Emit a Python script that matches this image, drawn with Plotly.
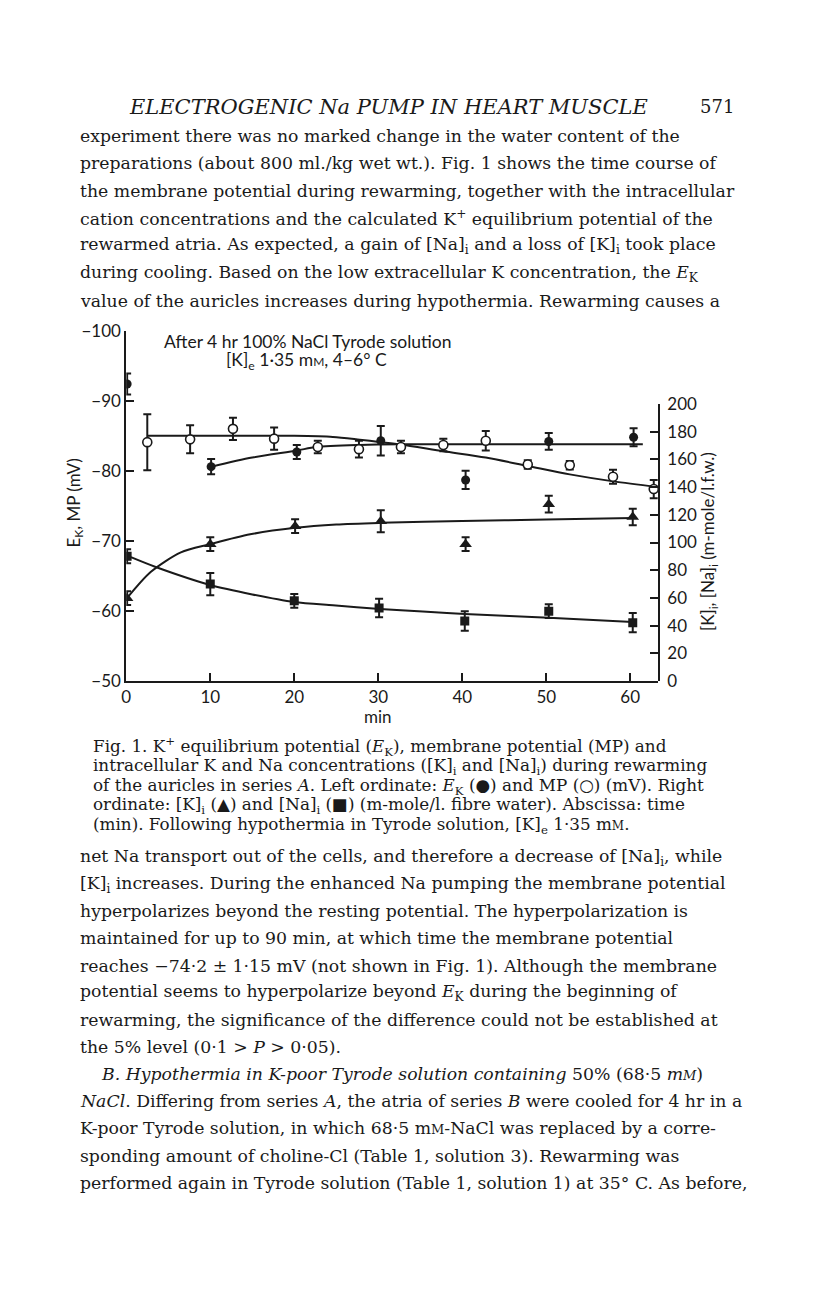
import plotly.graph_objects as go

# the page keeps the browser's 8px body margin, so the figure is 16px smaller
# than the 816x1296 window and every position below is given in window pixels
PAGE_W, PAGE_H = 816, 1296
MARGIN = 8
W, H = PAGE_W - 2 * MARGIN, PAGE_H - 2 * MARGIN

# E_K (filled circles), left ordinate, mV
t_ek = [0.1, 10.1, 20.3, 30.3, 40.4, 50.3, 60.4]
ek = [-92.4, -80.6, -82.7, -84.3, -78.7, -84.2, -84.8]
ek_err = [1.5, 1.1, 1.0, 2.1, 1.3, 1.2, 1.3]

# MP (open circles), left ordinate, mV
t_mp = [2.5, 7.6, 12.7, 17.6, 22.8, 27.7, 32.7, 37.75, 42.8, 47.8, 52.8, 57.95, 62.8]
mp = [-84.1, -84.5, -86.0, -84.6, -83.4, -83.1, -83.4, -83.7, -84.3, -80.9, -80.8, -79.15, -77.4]
mp_err = [4.0, 2.0, 1.6, 1.6, 0.9, 1.2, 0.9, 0.9, 1.4, 0.6, 0.6, 1.0, 1.3]

# [K]i (triangles), right ordinate
t_k = [0.1, 10.0, 20.1, 30.3, 40.4, 50.3, 60.3]
k = [59.8, 98.8, 111.8, 115.4, 98.8, 127.7, 118.4]
k_err = [5, 5, 5, 8, 5, 6, 6]

# [Na]i (squares), right ordinate
t_na = [0.1, 10.0, 20.0, 30.1, 40.3, 50.3, 60.3]
na = [90.1, 70.0, 57.9, 52.7, 43.3, 50.4, 42.1]
na_err = [5, 8, 5, 6.6, 7, 5, 7]

# hand-drawn curves
mp_fit_t = [2.5, 10, 20, 24.6, 27.8, 30.3, 32.7, 37.75, 42.8, 47.8, 52.8, 58, 63.3]
mp_fit = [-85.0, -85.0, -85.0, -84.85, -84.45, -84.1, -83.75, -82.8, -81.9, -80.7, -79.5, -78.5, -77.7]
ek_fit_t = [10.1, 15, 20.3, 22.6, 27.8, 32.6, 40, 50, 61.5]
ek_fit = [-80.6, -81.9, -82.9, -83.4, -83.7, -83.8, -83.8, -83.8, -83.8]
k_fit_t = [0.15, 2.9, 6.5, 10, 14.75, 20.1, 25, 30.3, 40, 50, 60.3]
k_fit = [60.3, 78.7, 92.9, 98.8, 105.9, 110.6, 113.0, 114.2, 115.5, 116.6, 117.7]
na_fit_t = [0.55, 3.5, 10, 15, 20, 24.6, 30.2, 35.3, 40.3, 50.3, 60.3]
na_fit = [89.4, 82.3, 69.3, 62.5, 57.0, 54.6, 52.0, 50.1, 48.4, 45.6, 42.6]

x_ticks = [0, 10, 20, 30, 40, 50, 60]
left_ticks = [-100, -90, -80, -70, -60, -50]
left_labels = ["\u2212100", "\u221290", "\u221280", "\u221270", "\u221260", "\u221250"]
right_ticks = [0, 20, 40, 60, 80, 100, 120, 140, 160, 180, 200]

header = "<i>ELECTROGENIC Na PUMP IN HEART MUSCLE</i>"
page_no = "571"

para_top = [
    "experiment there was no marked change in the water content of the",
    "preparations (about 800 ml./kg wet wt.). Fig. 1 shows the time course of",
    "the membrane potential during rewarming, together with the intracellular",
    "cation concentrations and the calculated K<sup>+</sup> equilibrium potential of the",
    "rewarmed atria. As expected, a gain of [Na]<sub>i</sub> and a loss of [K]<sub>i</sub> took place",
    "during cooling. Based on the low extracellular K concentration, the <i>E</i><sub>K</sub>",
    "value of the auricles increases during hypothermia. Rewarming causes a",
]

caption = [
    "Fig. 1. K<sup>+</sup> equilibrium potential (<i>E</i><sub>K</sub>), membrane potential (MP) and",
    "intracellular K and Na concentrations ([K]<sub>i</sub> and [Na]<sub>i</sub>) during rewarming",
    "of the auricles in series <i>A</i>. Left ordinate: <i>E</i><sub>K</sub> (\u25cf) and MP (\u25cb) (mV). Right",
    "ordinate: [K]<sub>i</sub> (\u25b2) and [Na]<sub>i</sub> (\u25a0) (m-mole/l. fibre water). Abscissa: time",
    "(min). Following hypothermia in Tyrode solution, [K]<sub>e</sub> 1\u00b735 m<span style='font-size:12px'>M</span>.",
]

para_bottom = [
    "net Na transport out of the cells, and therefore a decrease of [Na]<sub>i</sub>, while",
    "[K]<sub>i</sub> increases. During the enhanced Na pumping the membrane potential",
    "hyperpolarizes beyond the resting potential. The hyperpolarization is",
    "maintained for up to 90 min, at which time the membrane potential",
    "reaches \u221274\u00b72 \u00b1 1\u00b715 mV (not shown in Fig. 1). Although the membrane",
    "potential seems to hyperpolarize beyond <i>E</i><sub>K</sub> during the beginning of",
    "rewarming, the significance of the difference could not be established at",
    "the 5% level (0\u00b71 > <i>P</i> > 0\u00b705).",
    "<i>B. Hypothermia in K-poor Tyrode solution containing</i> 50% (68\u00b75 <i>m<span style='font-size:13px'>M</span></i>)",
    "<i>NaCl</i>. Differing from series <i>A</i>, the atria of series <i>B</i> were cooled for 4 hr in a",
    "K-poor Tyrode solution, in which 68\u00b75 m<span style='font-size:13px'>M</span>-NaCl was replaced by a corre-",
    "sponding amount of choline-Cl (Table 1, solution 3). Rewarming was",
    "performed again in Tyrode solution (Table 1, solution 1) at 35\u00b0 C. As before,",
]


def px(x, y):
    """window pixels -> paper coordinates"""
    return (x - MARGIN) / W, 1 - (y - MARGIN) / H


SERIF = "DejaVu Serif"
SANS = "Lato"
INK = "#1a1a1a"

fig = go.Figure()

curve = dict(color=INK, width=2, shape="spline", smoothing=0.8)
fig.add_trace(go.Scatter(x=mp_fit_t, y=mp_fit, mode="lines", line=curve, yaxis="y"))
fig.add_trace(go.Scatter(x=ek_fit_t, y=ek_fit, mode="lines", line=curve, yaxis="y"))
fig.add_trace(go.Scatter(x=k_fit_t, y=k_fit, mode="lines", line=curve, yaxis="y2"))
fig.add_trace(go.Scatter(x=na_fit_t, y=na_fit, mode="lines", line=curve, yaxis="y2"))


def err(a):
    return dict(type="data", array=a, visible=True, color=INK, thickness=2, width=4)


fig.add_trace(go.Scatter(
    x=t_mp, y=mp, mode="markers", yaxis="y", error_y=err(mp_err),
    marker=dict(symbol="circle", size=9, color="white", line=dict(color=INK, width=1.6)),
))
fig.add_trace(go.Scatter(
    x=t_ek, y=ek, mode="markers", yaxis="y", error_y=err(ek_err),
    marker=dict(symbol="circle", size=9, color=INK),
))
fig.add_trace(go.Scatter(
    x=t_k, y=k, mode="markers", yaxis="y2", error_y=err(k_err),
    marker=dict(symbol="triangle-up", size=11, color=INK),
))
fig.add_trace(go.Scatter(
    x=t_na, y=na, mode="markers", yaxis="y2", error_y=err(na_err),
    marker=dict(symbol="square", size=9, color=INK),
))

axis_common = dict(
    showline=True, linecolor=INK, linewidth=2, ticks="inside", ticklen=8,
    tickwidth=2, tickcolor=INK, showgrid=False, zeroline=False,
    tickfont=dict(family=SANS, size=17, color=INK),
)

x0, y_bot = px(122, 681)
x1, y_top = px(657, 325)
_, y2_top = px(657, 399.5)

ann = []
# page text
xx, yy = px(386, 97)
ann.append(dict(x=xx, y=yy, text=header, xanchor="center",
                font=dict(family=SERIF, size=21, color=INK)))
xx, yy = px(736, 97)
ann.append(dict(x=xx, y=yy, text=page_no, xanchor="right",
                font=dict(family=SERIF, size=18, color=INK)))
for i, line in enumerate(para_top):
    xx, yy = px(73, 127 + i * 27.9)
    ann.append(dict(x=xx, y=yy, text=line, xanchor="left",
                    font=dict(family=SERIF, size=17.3, color=INK)))
for i, line in enumerate(caption):
    xx, yy = px(86, 748 + i * 20)
    ann.append(dict(x=xx, y=yy, text=line, xanchor="left",
                    font=dict(family=SERIF, size=16.8, color=INK)))
for i, line in enumerate(para_bottom):
    left = 95 if i == 8 else 73
    xx, yy = px(left, 860 + i * 27.6)
    ann.append(dict(x=xx, y=yy, text=line, xanchor="left",
                    font=dict(family=SERIF, size=17.3, color=INK)))

# chart text
xx, yy = px(158, 336)
ann.append(dict(x=xx, y=yy, text="After 4 hr 100% NaCl Tyrode solution", xanchor="left",
                font=dict(family=SANS, size=17.5, color=INK)))
xx, yy = px(220, 356)
ann.append(dict(x=xx, y=yy, text="[K]<sub>e</sub> 1\u00b735 m<span style='font-size:12px'>M</span>, 4\u20136\u00b0 C",
                xanchor="left", font=dict(family=SANS, size=17.5, color=INK)))
xx, yy = px(375, 717)
ann.append(dict(x=xx, y=yy, text="min", xanchor="center",
                font=dict(family=SANS, size=17, color=INK)))
xx, yy = px(70, 500)
ann.append(dict(x=xx, y=yy, text="E<sub>K</sub>, MP (mV)", textangle=-90, xanchor="center",
                font=dict(family=SANS, size=17, color=INK)))
xx, yy = px(709, 539)
ann.append(dict(x=xx, y=yy, text="[K]<sub>i</sub>, [Na]<sub>i</sub> (m-mole/l.f.w.)", textangle=-90,
                xanchor="center", font=dict(family=SANS, size=17, color=INK)))

for a in ann:
    a.update(xref="paper", yref="paper", showarrow=False, yanchor="middle")

fig.update_layout(
    width=W, height=H, autosize=False,
    margin=dict(l=0, r=0, t=0, b=0),
    paper_bgcolor="white", plot_bgcolor="rgba(0,0,0,0)",
    showlegend=False,
    modebar=dict(bgcolor="rgba(0,0,0,0)", color="rgba(0,0,0,0)", activecolor="rgba(0,0,0,0)"),
    xaxis=dict(domain=[x0, x1], range=[0, 63.3], tickvals=x_ticks, anchor="y", **axis_common),
    yaxis=dict(domain=[y_bot, y_top], range=[-50, -100], tickvals=left_ticks,
               ticktext=left_labels, anchor="x", **axis_common),
    yaxis2=dict(domain=[y_bot, y2_top], range=[0, 200], tickvals=right_ticks,
                side="right", anchor="x", ticklabelstandoff=4, **axis_common),
    annotations=ann,
)

fig.write_html("out.html")
